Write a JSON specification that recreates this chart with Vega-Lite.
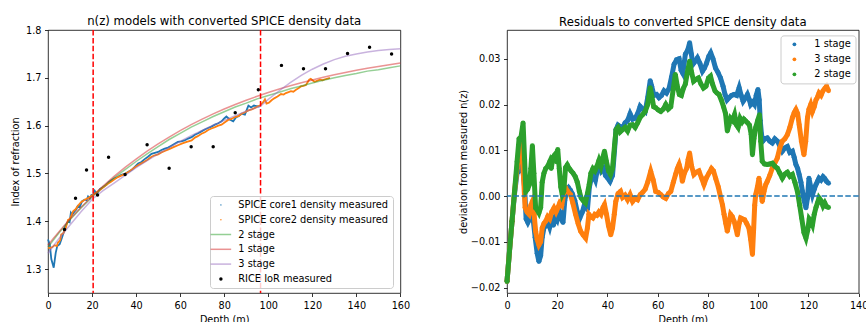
{
  "$schema": "https://vega.github.io/schema/vega-lite/v6.json",
  "padding": {"left": 10, "top": 15, "right": 0, "bottom": 0},
  "background": "white",
  "config": {
    "font": "DejaVu Sans",
    "view": {"stroke": "black", "strokeWidth": 0.8},
    "axis": {"domain": false, "grid": false, "tickColor": "black", "tickSize": 3.5, "tickWidth": 0.8, "labelFont": "DejaVu Sans", "labelFontSize": 9.7, "labelColor": "black", "labelPadding": 3.5, "titleFont": "DejaVu Sans", "titleFontSize": 9.7, "titleFontWeight": "normal", "titleColor": "black", "titlePadding": 5, "labelFlush": false, "labelOverlap": false},
    "title": {"font": "DejaVu Sans", "fontSize": 11.7, "fontWeight": "normal", "color": "black", "offset": -2.7, "anchor": "middle"},
    "legend": {"labelFont": "DejaVu Sans", "labelFontSize": 9.8, "labelColor": "black", "fillColor": "rgba(255,255,255,0.8)", "strokeColor": "#cccccc", "cornerRadius": 3, "padding": 5}
  },
  "resolve": {"scale": {"color": "independent"}, "legend": {"color": "independent"}},
  "spacing": 46,
  "datasets": {
    "meas": [
      {"z":0,"n":1.362,"s":"SPICE core1 density measured"},{"z":0.8,"n":1.352,"s":"SPICE core1 density measured"},{"z":1.5,"n":1.321,"s":"SPICE core1 density measured"},{"z":2.6,"n":1.303,"s":"SPICE core1 density measured"},{"z":3.5,"n":1.334,"s":"SPICE core1 density measured"},{"z":4.2,"n":1.348,"s":"SPICE core1 density measured"},{"z":5.3,"n":1.352,"s":"SPICE core1 density measured"},{"z":6.3,"n":1.365,"s":"SPICE core1 density measured"},{"z":7,"n":1.375,"s":"SPICE core1 density measured"},{"z":7.9,"n":1.39,"s":"SPICE core1 density measured"},{"z":8.5,"n":1.395,"s":"SPICE core1 density measured"},{"z":9.1,"n":1.4,"s":"SPICE core1 density measured"},{"z":9.8,"n":1.398,"s":"SPICE core1 density measured"},{"z":10.4,"n":1.418,"s":"SPICE core1 density measured"},{"z":11,"n":1.414,"s":"SPICE core1 density measured"},{"z":12,"n":1.42,"s":"SPICE core1 density measured"},{"z":12.9,"n":1.425,"s":"SPICE core1 density measured"},{"z":13.5,"n":1.432,"s":"SPICE core1 density measured"},{"z":14.4,"n":1.43,"s":"SPICE core1 density measured"},{"z":15.5,"n":1.442,"s":"SPICE core1 density measured"},{"z":16.7,"n":1.445,"s":"SPICE core1 density measured"},{"z":17.5,"n":1.444,"s":"SPICE core1 density measured"},{"z":18.2,"n":1.452,"s":"SPICE core1 density measured"},{"z":19,"n":1.448,"s":"SPICE core1 density measured"},{"z":19.7,"n":1.455,"s":"SPICE core1 density measured"},{"z":20.5,"n":1.456,"s":"SPICE core1 density measured"},{"z":21.2,"n":1.464,"s":"SPICE core1 density measured"},{"z":22,"n":1.458,"s":"SPICE core1 density measured"},{"z":22.7,"n":1.461,"s":"SPICE core1 density measured"},{"z":23.5,"n":1.467,"s":"SPICE core1 density measured"},{"z":24.2,"n":1.469,"s":"SPICE core1 density measured"},{"z":25.3,"n":1.472,"s":"SPICE core1 density measured"},{"z":26.5,"n":1.476,"s":"SPICE core1 density measured"},{"z":27.6,"n":1.482,"s":"SPICE core1 density measured"},{"z":28.8,"n":1.486,"s":"SPICE core1 density measured"},{"z":30.3,"n":1.49,"s":"SPICE core1 density measured"},{"z":31.8,"n":1.493,"s":"SPICE core1 density measured"},{"z":33.3,"n":1.497,"s":"SPICE core1 density measured"},{"z":34.8,"n":1.499,"s":"SPICE core1 density measured"},{"z":36.3,"n":1.503,"s":"SPICE core1 density measured"},{"z":37.9,"n":1.507,"s":"SPICE core1 density measured"},{"z":39.4,"n":1.514,"s":"SPICE core1 density measured"},{"z":40.9,"n":1.521,"s":"SPICE core1 density measured"},{"z":42.4,"n":1.524,"s":"SPICE core1 density measured"},{"z":43.9,"n":1.53,"s":"SPICE core1 density measured"},{"z":45.4,"n":1.535,"s":"SPICE core1 density measured"},{"z":47,"n":1.541,"s":"SPICE core1 density measured"},{"z":48.5,"n":1.543,"s":"SPICE core1 density measured"},{"z":50,"n":1.545,"s":"SPICE core1 density measured"},{"z":51.5,"n":1.549,"s":"SPICE core1 density measured"},{"z":53,"n":1.552,"s":"SPICE core1 density measured"},{"z":54.5,"n":1.554,"s":"SPICE core1 density measured"},{"z":56,"n":1.558,"s":"SPICE core1 density measured"},{"z":57.5,"n":1.562,"s":"SPICE core1 density measured"},{"z":59,"n":1.566,"s":"SPICE core1 density measured"},{"z":60.5,"n":1.567,"s":"SPICE core1 density measured"},{"z":62,"n":1.569,"s":"SPICE core1 density measured"},{"z":63.6,"n":1.573,"s":"SPICE core1 density measured"},{"z":65.2,"n":1.576,"s":"SPICE core1 density measured"},{"z":66.7,"n":1.581,"s":"SPICE core1 density measured"},{"z":68.2,"n":1.584,"s":"SPICE core1 density measured"},{"z":69.7,"n":1.588,"s":"SPICE core1 density measured"},{"z":71.2,"n":1.592,"s":"SPICE core1 density measured"},{"z":72.7,"n":1.595,"s":"SPICE core1 density measured"},{"z":74.2,"n":1.598,"s":"SPICE core1 density measured"},{"z":75.8,"n":1.602,"s":"SPICE core1 density measured"},{"z":77.3,"n":1.605,"s":"SPICE core1 density measured"},{"z":78.8,"n":1.609,"s":"SPICE core1 density measured"},{"z":80,"n":1.615,"s":"SPICE core1 density measured"},{"z":81,"n":1.619,"s":"SPICE core1 density measured"},{"z":82.5,"n":1.613,"s":"SPICE core1 density measured"},{"z":84.1,"n":1.609,"s":"SPICE core1 density measured"},{"z":85.5,"n":1.618,"s":"SPICE core1 density measured"},{"z":86.7,"n":1.62,"s":"SPICE core1 density measured"},{"z":87.9,"n":1.625,"s":"SPICE core1 density measured"},{"z":89.4,"n":1.623,"s":"SPICE core1 density measured"},{"z":90.5,"n":1.636,"s":"SPICE core1 density measured"},{"z":91,"n":1.642,"s":"SPICE core1 density measured"},{"z":92.2,"n":1.638,"s":"SPICE core1 density measured"},{"z":93.5,"n":1.642,"s":"SPICE core1 density measured"},{"z":94.7,"n":1.641,"s":"SPICE core1 density measured"},{"z":96,"n":1.64,"s":"SPICE core1 density measured"},
      {"z":0,"n":1.345,"s":"SPICE core2 density measured"},{"z":1,"n":1.344,"s":"SPICE core2 density measured"},{"z":2,"n":1.346,"s":"SPICE core2 density measured"},{"z":3,"n":1.35,"s":"SPICE core2 density measured"},{"z":4,"n":1.348,"s":"SPICE core2 density measured"},{"z":4.5,"n":1.355,"s":"SPICE core2 density measured"},{"z":5.5,"n":1.36,"s":"SPICE core2 density measured"},{"z":6,"n":1.372,"s":"SPICE core2 density measured"},{"z":7,"n":1.375,"s":"SPICE core2 density measured"},{"z":8,"n":1.385,"s":"SPICE core2 density measured"},{"z":9.1,"n":1.403,"s":"SPICE core2 density measured"},{"z":10,"n":1.405,"s":"SPICE core2 density measured"},{"z":11.4,"n":1.421,"s":"SPICE core2 density measured"},{"z":12.5,"n":1.425,"s":"SPICE core2 density measured"},{"z":13.5,"n":1.432,"s":"SPICE core2 density measured"},{"z":15,"n":1.44,"s":"SPICE core2 density measured"},{"z":16.7,"n":1.445,"s":"SPICE core2 density measured"},{"z":18,"n":1.448,"s":"SPICE core2 density measured"},{"z":19.7,"n":1.453,"s":"SPICE core2 density measured"},{"z":21,"n":1.457,"s":"SPICE core2 density measured"},{"z":22.7,"n":1.462,"s":"SPICE core2 density measured"},{"z":24,"n":1.467,"s":"SPICE core2 density measured"},{"z":25.7,"n":1.473,"s":"SPICE core2 density measured"},{"z":27,"n":1.478,"s":"SPICE core2 density measured"},{"z":28.8,"n":1.483,"s":"SPICE core2 density measured"},{"z":30.5,"n":1.489,"s":"SPICE core2 density measured"},{"z":32,"n":1.493,"s":"SPICE core2 density measured"},{"z":33.5,"n":1.496,"s":"SPICE core2 density measured"},{"z":34.8,"n":1.499,"s":"SPICE core2 density measured"},{"z":36.5,"n":1.503,"s":"SPICE core2 density measured"},{"z":38,"n":1.508,"s":"SPICE core2 density measured"},{"z":39.5,"n":1.513,"s":"SPICE core2 density measured"},{"z":40.9,"n":1.517,"s":"SPICE core2 density measured"},{"z":42,"n":1.52,"s":"SPICE core2 density measured"},{"z":43.5,"n":1.524,"s":"SPICE core2 density measured"},{"z":45,"n":1.528,"s":"SPICE core2 density measured"},{"z":47,"n":1.535,"s":"SPICE core2 density measured"},{"z":48.5,"n":1.538,"s":"SPICE core2 density measured"},{"z":50,"n":1.54,"s":"SPICE core2 density measured"},{"z":51.5,"n":1.544,"s":"SPICE core2 density measured"},{"z":53,"n":1.547,"s":"SPICE core2 density measured"},{"z":55,"n":1.551,"s":"SPICE core2 density measured"},{"z":57,"n":1.555,"s":"SPICE core2 density measured"},{"z":59,"n":1.559,"s":"SPICE core2 density measured"},{"z":61,"n":1.563,"s":"SPICE core2 density measured"},{"z":63,"n":1.566,"s":"SPICE core2 density measured"},{"z":65.2,"n":1.569,"s":"SPICE core2 density measured"},{"z":66.7,"n":1.575,"s":"SPICE core2 density measured"},{"z":68,"n":1.578,"s":"SPICE core2 density measured"},{"z":69.7,"n":1.583,"s":"SPICE core2 density measured"},{"z":71.2,"n":1.586,"s":"SPICE core2 density measured"},{"z":72.7,"n":1.591,"s":"SPICE core2 density measured"},{"z":74.2,"n":1.594,"s":"SPICE core2 density measured"},{"z":75.8,"n":1.597,"s":"SPICE core2 density measured"},{"z":77.3,"n":1.6,"s":"SPICE core2 density measured"},{"z":78.8,"n":1.602,"s":"SPICE core2 density measured"},{"z":80.3,"n":1.607,"s":"SPICE core2 density measured"},{"z":81.8,"n":1.612,"s":"SPICE core2 density measured"},{"z":83.3,"n":1.614,"s":"SPICE core2 density measured"},{"z":84.9,"n":1.618,"s":"SPICE core2 density measured"},{"z":86.4,"n":1.62,"s":"SPICE core2 density measured"},{"z":87.9,"n":1.625,"s":"SPICE core2 density measured"},{"z":89.4,"n":1.628,"s":"SPICE core2 density measured"},{"z":91,"n":1.632,"s":"SPICE core2 density measured"},{"z":92.5,"n":1.634,"s":"SPICE core2 density measured"},{"z":94,"n":1.637,"s":"SPICE core2 density measured"},{"z":95.1,"n":1.64,"s":"SPICE core2 density measured"},{"z":96.2,"n":1.642,"s":"SPICE core2 density measured"},{"z":97.7,"n":1.649,"s":"SPICE core2 density measured"},{"z":98.5,"n":1.655,"s":"SPICE core2 density measured"},{"z":99.2,"n":1.646,"s":"SPICE core2 density measured"},{"z":100.3,"n":1.648,"s":"SPICE core2 density measured"},{"z":101.5,"n":1.653,"s":"SPICE core2 density measured"},{"z":102.7,"n":1.657,"s":"SPICE core2 density measured"},{"z":104.2,"n":1.661,"s":"SPICE core2 density measured"},{"z":105.8,"n":1.666,"s":"SPICE core2 density measured"},{"z":107,"n":1.665,"s":"SPICE core2 density measured"},{"z":108,"n":1.668,"s":"SPICE core2 density measured"},{"z":109.2,"n":1.67,"s":"SPICE core2 density measured"},{"z":110.3,"n":1.672,"s":"SPICE core2 density measured"},{"z":111.4,"n":1.671,"s":"SPICE core2 density measured"},{"z":112.6,"n":1.675,"s":"SPICE core2 density measured"},{"z":113.7,"n":1.678,"s":"SPICE core2 density measured"},{"z":114.8,"n":1.682,"s":"SPICE core2 density measured"},{"z":116,"n":1.683,"s":"SPICE core2 density measured"},{"z":117.1,"n":1.685,"s":"SPICE core2 density measured"},{"z":118.6,"n":1.696,"s":"SPICE core2 density measured"},{"z":119.3,"n":1.698,"s":"SPICE core2 density measured"},{"z":120.1,"n":1.695,"s":"SPICE core2 density measured"},{"z":121,"n":1.692,"s":"SPICE core2 density measured"},{"z":121.8,"n":1.693,"s":"SPICE core2 density measured"},{"z":123.5,"n":1.696,"s":"SPICE core2 density measured"},{"z":124.6,"n":1.695,"s":"SPICE core2 density measured"},{"z":125.8,"n":1.697,"s":"SPICE core2 density measured"},{"z":127.3,"n":1.699,"s":"SPICE core2 density measured"},{"z":128,"n":1.7,"s":"SPICE core2 density measured"}
    ],
    "model": [
      {"z":0,"n":1.346,"s":"2 stage"},{"z":5,"n":1.376,"s":"2 stage"},{"z":10,"n":1.403,"s":"2 stage"},{"z":15,"n":1.428,"s":"2 stage"},{"z":20.5,"n":1.453,"s":"2 stage"},{"z":25,"n":1.472,"s":"2 stage"},{"z":30,"n":1.491,"s":"2 stage"},{"z":35,"n":1.508,"s":"2 stage"},{"z":40,"n":1.525,"s":"2 stage"},{"z":45,"n":1.541,"s":"2 stage"},{"z":50,"n":1.556,"s":"2 stage"},{"z":55,"n":1.571,"s":"2 stage"},{"z":60,"n":1.584,"s":"2 stage"},{"z":65,"n":1.597,"s":"2 stage"},{"z":70,"n":1.608,"s":"2 stage"},{"z":75,"n":1.619,"s":"2 stage"},{"z":80,"n":1.629,"s":"2 stage"},{"z":85,"n":1.639,"s":"2 stage"},{"z":90,"n":1.647,"s":"2 stage"},{"z":95,"n":1.656,"s":"2 stage"},{"z":100,"n":1.663,"s":"2 stage"},{"z":105,"n":1.67,"s":"2 stage"},{"z":110,"n":1.677,"s":"2 stage"},{"z":115,"n":1.683,"s":"2 stage"},{"z":120,"n":1.689,"s":"2 stage"},{"z":125,"n":1.695,"s":"2 stage"},{"z":130,"n":1.7,"s":"2 stage"},{"z":135,"n":1.705,"s":"2 stage"},{"z":140,"n":1.709,"s":"2 stage"},{"z":145,"n":1.714,"s":"2 stage"},{"z":150,"n":1.717,"s":"2 stage"},{"z":155,"n":1.721,"s":"2 stage"},{"z":160,"n":1.725,"s":"2 stage"},
      {"z":0,"n":1.35,"s":"1 stage"},{"z":2.5,"n":1.3643,"s":"1 stage"},{"z":5,"n":1.3782,"s":"1 stage"},{"z":7.5,"n":1.3916,"s":"1 stage"},{"z":10,"n":1.4046,"s":"1 stage"},{"z":15,"n":1.4292,"s":"1 stage"},{"z":20,"n":1.4522,"s":"1 stage"},{"z":25,"n":1.4737,"s":"1 stage"},{"z":30,"n":1.4938,"s":"1 stage"},{"z":35,"n":1.5126,"s":"1 stage"},{"z":40,"n":1.5301,"s":"1 stage"},{"z":45,"n":1.5465,"s":"1 stage"},{"z":50,"n":1.5618,"s":"1 stage"},{"z":55,"n":1.5761,"s":"1 stage"},{"z":60,"n":1.5895,"s":"1 stage"},{"z":65,"n":1.602,"s":"1 stage"},{"z":70,"n":1.6137,"s":"1 stage"},{"z":75,"n":1.6246,"s":"1 stage"},{"z":80,"n":1.6348,"s":"1 stage"},{"z":85,"n":1.6443,"s":"1 stage"},{"z":90,"n":1.6532,"s":"1 stage"},{"z":95,"n":1.6615,"s":"1 stage"},{"z":100,"n":1.6693,"s":"1 stage"},{"z":105,"n":1.6765,"s":"1 stage"},{"z":110,"n":1.6833,"s":"1 stage"},{"z":115,"n":1.6897,"s":"1 stage"},{"z":120,"n":1.6956,"s":"1 stage"},{"z":125,"n":1.7011,"s":"1 stage"},{"z":130,"n":1.7063,"s":"1 stage"},{"z":135,"n":1.7112,"s":"1 stage"},{"z":140,"n":1.7157,"s":"1 stage"},{"z":145,"n":1.7199,"s":"1 stage"},{"z":150,"n":1.7238,"s":"1 stage"},{"z":155,"n":1.7275,"s":"1 stage"},{"z":160,"n":1.7309,"s":"1 stage"},
      {"z":0,"n":1.333,"s":"3 stage"},{"z":5,"n":1.364,"s":"3 stage"},{"z":10,"n":1.392,"s":"3 stage"},{"z":15,"n":1.42,"s":"3 stage"},{"z":20.5,"n":1.448,"s":"3 stage"},{"z":25,"n":1.464,"s":"3 stage"},{"z":30,"n":1.48,"s":"3 stage"},{"z":35,"n":1.496,"s":"3 stage"},{"z":40,"n":1.512,"s":"3 stage"},{"z":45,"n":1.527,"s":"3 stage"},{"z":50,"n":1.541,"s":"3 stage"},{"z":55,"n":1.554,"s":"3 stage"},{"z":60,"n":1.567,"s":"3 stage"},{"z":65,"n":1.579,"s":"3 stage"},{"z":70,"n":1.59,"s":"3 stage"},{"z":75,"n":1.601,"s":"3 stage"},{"z":80,"n":1.611,"s":"3 stage"},{"z":85,"n":1.621,"s":"3 stage"},{"z":90,"n":1.63,"s":"3 stage"},{"z":96.5,"n":1.641,"s":"3 stage"},{"z":100,"n":1.655,"s":"3 stage"},{"z":105,"n":1.673,"s":"3 stage"},{"z":110,"n":1.69,"s":"3 stage"},{"z":115,"n":1.705,"s":"3 stage"},{"z":120,"n":1.718,"s":"3 stage"},{"z":125,"n":1.729,"s":"3 stage"},{"z":130,"n":1.738,"s":"3 stage"},{"z":135,"n":1.745,"s":"3 stage"},{"z":140,"n":1.75,"s":"3 stage"},{"z":145,"n":1.754,"s":"3 stage"},{"z":150,"n":1.757,"s":"3 stage"},{"z":155,"n":1.759,"s":"3 stage"},{"z":160,"n":1.761,"s":"3 stage"}
    ],
    "rice": [
      {"z":7.5,"n":1.383,"s":"RICE IoR measured"},{"z":12.5,"n":1.448,"s":"RICE IoR measured"},{"z":17.5,"n":1.507,"s":"RICE IoR measured"},{"z":22.5,"n":1.455,"s":"RICE IoR measured"},{"z":27.5,"n":1.534,"s":"RICE IoR measured"},{"z":35,"n":1.498,"s":"RICE IoR measured"},{"z":45,"n":1.56,"s":"RICE IoR measured"},{"z":55,"n":1.511,"s":"RICE IoR measured"},{"z":65,"n":1.556,"s":"RICE IoR measured"},{"z":75,"n":1.556,"s":"RICE IoR measured"},{"z":85,"n":1.627,"s":"RICE IoR measured"},{"z":95.5,"n":1.675,"s":"RICE IoR measured"},{"z":106,"n":1.726,"s":"RICE IoR measured"},{"z":116,"n":1.719,"s":"RICE IoR measured"},{"z":126,"n":1.719,"s":"RICE IoR measured"},{"z":136,"n":1.751,"s":"RICE IoR measured"},{"z":146,"n":1.764,"s":"RICE IoR measured"},{"z":156,"n":1.75,"s":"RICE IoR measured"}
    ],
    "vlines": [{"z":20.5},{"z":96.5}],
    "zero": [{"r":0}],
    "resid": [
      {"z":0,"r":-0.0187,"s":"1 stage"},{"z":1,"r":-0.012,"s":"1 stage"},{"z":2,"r":-0.0055,"s":"1 stage"},{"z":3,"r":0.0005,"s":"1 stage"},{"z":4,"r":0.005,"s":"1 stage"},{"z":4.8,"r":0.0075,"s":"1 stage"},{"z":5.5,"r":0.006,"s":"1 stage"},{"z":6.2,"r":0.0065,"s":"1 stage"},{"z":7,"r":0.002,"s":"1 stage"},{"z":7.6,"r":-0.005,"s":"1 stage"},{"z":8.3,"r":-0.0058,"s":"1 stage"},{"z":9,"r":-0.005,"s":"1 stage"},{"z":9.7,"r":-0.0035,"s":"1 stage"},{"z":10.4,"r":-0.005,"s":"1 stage"},{"z":11.2,"r":-0.009,"s":"1 stage"},{"z":12,"r":-0.0125,"s":"1 stage"},{"z":12.7,"r":-0.0143,"s":"1 stage"},{"z":13.4,"r":-0.013,"s":"1 stage"},{"z":14,"r":-0.009,"s":"1 stage"},{"z":14.7,"r":-0.007,"s":"1 stage"},{"z":15.4,"r":-0.0065,"s":"1 stage"},{"z":16.2,"r":-0.0055,"s":"1 stage"},{"z":17,"r":-0.0068,"s":"1 stage"},{"z":17.8,"r":-0.005,"s":"1 stage"},{"z":18.5,"r":-0.0064,"s":"1 stage"},{"z":19.3,"r":-0.0045,"s":"1 stage"},{"z":20,"r":-0.0052,"s":"1 stage"},{"z":20.8,"r":-0.0035,"s":"1 stage"},{"z":21.5,"r":-0.0048,"s":"1 stage"},{"z":22.3,"r":-0.0058,"s":"1 stage"},{"z":23,"r":-0.001,"s":"1 stage"},{"z":23.7,"r":0.0012,"s":"1 stage"},{"z":24.5,"r":0.0018,"s":"1 stage"},{"z":25.3,"r":0.0012,"s":"1 stage"},{"z":26,"r":0.0005,"s":"1 stage"},{"z":27,"r":-0.001,"s":"1 stage"},{"z":28,"r":-0.0035,"s":"1 stage"},{"z":29,"r":-0.0048,"s":"1 stage"},{"z":30,"r":-0.0035,"s":"1 stage"},{"z":31,"r":-0.0015,"s":"1 stage"},{"z":32,"r":-0.003,"s":"1 stage"},{"z":32.8,"r":0.002,"s":"1 stage"},{"z":33.6,"r":0.004,"s":"1 stage"},{"z":34.4,"r":0.0045,"s":"1 stage"},{"z":35.2,"r":0.0035,"s":"1 stage"},{"z":36,"r":0.0058,"s":"1 stage"},{"z":36.8,"r":0.0075,"s":"1 stage"},{"z":37.6,"r":0.0055,"s":"1 stage"},{"z":38.4,"r":0.006,"s":"1 stage"},{"z":39.2,"r":0.0045,"s":"1 stage"},{"z":40,"r":0.004,"s":"1 stage"},{"z":41,"r":0.0032,"s":"1 stage"},{"z":42,"r":0.0045,"s":"1 stage"},{"z":42.8,"r":0.01,"s":"1 stage"},{"z":43.4,"r":0.0145,"s":"1 stage"},{"z":44.2,"r":0.0155,"s":"1 stage"},{"z":45,"r":0.0152,"s":"1 stage"},{"z":46,"r":0.0148,"s":"1 stage"},{"z":47,"r":0.016,"s":"1 stage"},{"z":48,"r":0.0165,"s":"1 stage"},{"z":49,"r":0.018,"s":"1 stage"},{"z":50,"r":0.0168,"s":"1 stage"},{"z":51,"r":0.017,"s":"1 stage"},{"z":52,"r":0.018,"s":"1 stage"},{"z":53,"r":0.0196,"s":"1 stage"},{"z":54,"r":0.019,"s":"1 stage"},{"z":55,"r":0.0185,"s":"1 stage"},{"z":56,"r":0.0215,"s":"1 stage"},{"z":57,"r":0.0252,"s":"1 stage"},{"z":57.6,"r":0.024,"s":"1 stage"},{"z":58.5,"r":0.022,"s":"1 stage"},{"z":59.5,"r":0.0222,"s":"1 stage"},{"z":60.5,"r":0.0215,"s":"1 stage"},{"z":61.5,"r":0.022,"s":"1 stage"},{"z":62.5,"r":0.023,"s":"1 stage"},{"z":63.5,"r":0.0225,"s":"1 stage"},{"z":64.5,"r":0.0235,"s":"1 stage"},{"z":65.5,"r":0.026,"s":"1 stage"},{"z":66.5,"r":0.0288,"s":"1 stage"},{"z":67.5,"r":0.0298,"s":"1 stage"},{"z":68.5,"r":0.03,"s":"1 stage"},{"z":69.3,"r":0.0275,"s":"1 stage"},{"z":70,"r":0.0268,"s":"1 stage"},{"z":71,"r":0.031,"s":"1 stage"},{"z":72,"r":0.032,"s":"1 stage"},{"z":72.7,"r":0.0335,"s":"1 stage"},{"z":73.4,"r":0.031,"s":"1 stage"},{"z":74,"r":0.0288,"s":"1 stage"},{"z":75,"r":0.0295,"s":"1 stage"},{"z":75.8,"r":0.0302,"s":"1 stage"},{"z":76.8,"r":0.029,"s":"1 stage"},{"z":77.8,"r":0.0273,"s":"1 stage"},{"z":78.6,"r":0.028,"s":"1 stage"},{"z":79.4,"r":0.029,"s":"1 stage"},{"z":80.3,"r":0.0305,"s":"1 stage"},{"z":81.1,"r":0.0313,"s":"1 stage"},{"z":82,"r":0.03,"s":"1 stage"},{"z":83,"r":0.028,"s":"1 stage"},{"z":84,"r":0.027,"s":"1 stage"},{"z":85,"r":0.0258,"s":"1 stage"},{"z":86,"r":0.024,"s":"1 stage"},{"z":86.8,"r":0.0222,"s":"1 stage"},{"z":87.6,"r":0.021,"s":"1 stage"},{"z":88.4,"r":0.0215,"s":"1 stage"},{"z":89.4,"r":0.022,"s":"1 stage"},{"z":90.4,"r":0.0222,"s":"1 stage"},{"z":91.4,"r":0.022,"s":"1 stage"},{"z":92.4,"r":0.0237,"s":"1 stage"},{"z":93.2,"r":0.022,"s":"1 stage"},{"z":94,"r":0.0207,"s":"1 stage"},{"z":95,"r":0.0215,"s":"1 stage"},{"z":95.7,"r":0.0222,"s":"1 stage"},{"z":96.5,"r":0.021,"s":"1 stage"},{"z":97,"r":0.02,"s":"1 stage"},{"z":97.8,"r":0.0205,"s":"1 stage"},{"z":98.5,"r":0.02,"s":"1 stage"},{"z":99.2,"r":0.022,"s":"1 stage"},{"z":99.9,"r":0.0233,"s":"1 stage"},{"z":100.4,"r":0.021,"s":"1 stage"},{"z":100.8,"r":0.0165,"s":"1 stage"},{"z":101.3,"r":0.0135,"s":"1 stage"},{"z":101.8,"r":0.012,"s":"1 stage"},{"z":102.6,"r":0.0125,"s":"1 stage"},{"z":103.6,"r":0.0127,"s":"1 stage"},{"z":104.6,"r":0.012,"s":"1 stage"},{"z":105.6,"r":0.0116,"s":"1 stage"},{"z":106.6,"r":0.0125,"s":"1 stage"},{"z":107.6,"r":0.012,"s":"1 stage"},{"z":108.6,"r":0.011,"s":"1 stage"},{"z":109.6,"r":0.0098,"s":"1 stage"},{"z":110.6,"r":0.0105,"s":"1 stage"},{"z":111.6,"r":0.0108,"s":"1 stage"},{"z":112.6,"r":0.0095,"s":"1 stage"},{"z":113.6,"r":0.0098,"s":"1 stage"},{"z":114.3,"r":0.0085,"s":"1 stage"},{"z":115,"r":0.0069,"s":"1 stage"},{"z":115.7,"r":0.006,"s":"1 stage"},{"z":116.3,"r":0.0047,"s":"1 stage"},{"z":117,"r":0.003,"s":"1 stage"},{"z":117.6,"r":0.001,"s":"1 stage"},{"z":118.3,"r":-0.001,"s":"1 stage"},{"z":119,"r":-0.0026,"s":"1 stage"},{"z":119.6,"r":-0.0005,"s":"1 stage"},{"z":120.2,"r":0.0039,"s":"1 stage"},{"z":120.9,"r":0.002,"s":"1 stage"},{"z":121.6,"r":0.0003,"s":"1 stage"},{"z":122.3,"r":0.0015,"s":"1 stage"},{"z":123,"r":0.0025,"s":"1 stage"},{"z":123.6,"r":0.0032,"s":"1 stage"},{"z":124.2,"r":0.0039,"s":"1 stage"},{"z":125,"r":0.0035,"s":"1 stage"},{"z":125.8,"r":0.0042,"s":"1 stage"},{"z":126.5,"r":0.0038,"s":"1 stage"},{"z":127.2,"r":0.0032,"s":"1 stage"},{"z":128,"r":0.0028,"s":"1 stage"},
      {"z":0,"r":-0.0187,"s":"3 stage"},{"z":1,"r":-0.012,"s":"3 stage"},{"z":2,"r":-0.0055,"s":"3 stage"},{"z":3,"r":0.001,"s":"3 stage"},{"z":4,"r":0.006,"s":"3 stage"},{"z":4.8,"r":0.0095,"s":"3 stage"},{"z":5.4,"r":0.012,"s":"3 stage"},{"z":6,"r":0.009,"s":"3 stage"},{"z":6.6,"r":0.004,"s":"3 stage"},{"z":7.2,"r":-0.0025,"s":"3 stage"},{"z":8,"r":-0.0035,"s":"3 stage"},{"z":8.8,"r":-0.004,"s":"3 stage"},{"z":9.5,"r":-0.002,"s":"3 stage"},{"z":10.1,"r":-0.0012,"s":"3 stage"},{"z":10.8,"r":-0.004,"s":"3 stage"},{"z":11.4,"r":-0.0077,"s":"3 stage"},{"z":12,"r":-0.0095,"s":"3 stage"},{"z":12.7,"r":-0.0107,"s":"3 stage"},{"z":13.4,"r":-0.01,"s":"3 stage"},{"z":14,"r":-0.007,"s":"3 stage"},{"z":14.7,"r":-0.006,"s":"3 stage"},{"z":15.4,"r":-0.0055,"s":"3 stage"},{"z":16.2,"r":-0.0045,"s":"3 stage"},{"z":17,"r":-0.005,"s":"3 stage"},{"z":17.8,"r":-0.0035,"s":"3 stage"},{"z":18.7,"r":-0.0026,"s":"3 stage"},{"z":19.5,"r":-0.0035,"s":"3 stage"},{"z":20.3,"r":-0.0025,"s":"3 stage"},{"z":21,"r":-0.0015,"s":"3 stage"},{"z":21.8,"r":-0.002,"s":"3 stage"},{"z":22.6,"r":0.0005,"s":"3 stage"},{"z":23.4,"r":0.0017,"s":"3 stage"},{"z":24.2,"r":0.001,"s":"3 stage"},{"z":25.3,"r":0.0003,"s":"3 stage"},{"z":26.2,"r":-0.0015,"s":"3 stage"},{"z":27.3,"r":-0.004,"s":"3 stage"},{"z":28.3,"r":-0.006,"s":"3 stage"},{"z":29.3,"r":-0.0077,"s":"3 stage"},{"z":30.3,"r":-0.0085,"s":"3 stage"},{"z":31.3,"r":-0.0092,"s":"3 stage"},{"z":32,"r":-0.007,"s":"3 stage"},{"z":32.6,"r":-0.004,"s":"3 stage"},{"z":33.4,"r":-0.0045,"s":"3 stage"},{"z":34.2,"r":-0.0048,"s":"3 stage"},{"z":35,"r":-0.004,"s":"3 stage"},{"z":35.8,"r":-0.0042,"s":"3 stage"},{"z":36.6,"r":-0.0035,"s":"3 stage"},{"z":37.4,"r":-0.004,"s":"3 stage"},{"z":38.2,"r":-0.0025,"s":"3 stage"},{"z":38.8,"r":-0.0019,"s":"3 stage"},{"z":39.6,"r":-0.004,"s":"3 stage"},{"z":40.4,"r":-0.0065,"s":"3 stage"},{"z":41.3,"r":-0.0085,"s":"3 stage"},{"z":42,"r":-0.007,"s":"3 stage"},{"z":42.7,"r":-0.004,"s":"3 stage"},{"z":43.3,"r":-0.0012,"s":"3 stage"},{"z":44.2,"r":0.0005,"s":"3 stage"},{"z":45.2,"r":0.001,"s":"3 stage"},{"z":46,"r":-0.0003,"s":"3 stage"},{"z":47,"r":0.0002,"s":"3 stage"},{"z":48,"r":-0.0008,"s":"3 stage"},{"z":49,"r":0.0003,"s":"3 stage"},{"z":50,"r":-0.0012,"s":"3 stage"},{"z":51,"r":-0.0005,"s":"3 stage"},{"z":52,"r":-0.0008,"s":"3 stage"},{"z":53,"r":0.0003,"s":"3 stage"},{"z":54,"r":0.0008,"s":"3 stage"},{"z":55,"r":0.0015,"s":"3 stage"},{"z":56,"r":0.003,"s":"3 stage"},{"z":57.2,"r":0.0054,"s":"3 stage"},{"z":58.2,"r":0.0035,"s":"3 stage"},{"z":59.2,"r":0.001,"s":"3 stage"},{"z":60.2,"r":0.0008,"s":"3 stage"},{"z":61.2,"r":0.0003,"s":"3 stage"},{"z":62.2,"r":-0.0002,"s":"3 stage"},{"z":63.2,"r":-0.0005,"s":"3 stage"},{"z":64.2,"r":0.0005,"s":"3 stage"},{"z":65.2,"r":0.001,"s":"3 stage"},{"z":66.2,"r":0.003,"s":"3 stage"},{"z":67.1,"r":0.0047,"s":"3 stage"},{"z":67.8,"r":0.006,"s":"3 stage"},{"z":68.5,"r":0.0069,"s":"3 stage"},{"z":69.2,"r":0.0055,"s":"3 stage"},{"z":69.8,"r":0.0032,"s":"3 stage"},{"z":70.6,"r":0.005,"s":"3 stage"},{"z":71.5,"r":0.006,"s":"3 stage"},{"z":72.1,"r":0.008,"s":"3 stage"},{"z":72.7,"r":0.0094,"s":"3 stage"},{"z":73.5,"r":0.0065,"s":"3 stage"},{"z":74.4,"r":0.0047,"s":"3 stage"},{"z":75.3,"r":0.0052,"s":"3 stage"},{"z":76.4,"r":0.0055,"s":"3 stage"},{"z":77.4,"r":0.004,"s":"3 stage"},{"z":78.4,"r":0.0025,"s":"3 stage"},{"z":79.4,"r":0.004,"s":"3 stage"},{"z":80.4,"r":0.005,"s":"3 stage"},{"z":81.4,"r":0.006,"s":"3 stage"},{"z":82.2,"r":0.0055,"s":"3 stage"},{"z":83.1,"r":0.0038,"s":"3 stage"},{"z":84.1,"r":0.002,"s":"3 stage"},{"z":85.1,"r":-0.0004,"s":"3 stage"},{"z":85.8,"r":-0.002,"s":"3 stage"},{"z":86.4,"r":-0.004,"s":"3 stage"},{"z":87.1,"r":-0.006,"s":"3 stage"},{"z":87.7,"r":-0.0077,"s":"3 stage"},{"z":88.3,"r":-0.006,"s":"3 stage"},{"z":89,"r":-0.004,"s":"3 stage"},{"z":89.7,"r":-0.0045,"s":"3 stage"},{"z":90.4,"r":-0.0055,"s":"3 stage"},{"z":91.1,"r":-0.007,"s":"3 stage"},{"z":91.7,"r":-0.0085,"s":"3 stage"},{"z":92.4,"r":-0.006,"s":"3 stage"},{"z":93,"r":-0.0048,"s":"3 stage"},{"z":93.8,"r":-0.005,"s":"3 stage"},{"z":94.6,"r":-0.0052,"s":"3 stage"},{"z":95.4,"r":-0.006,"s":"3 stage"},{"z":96.3,"r":-0.007,"s":"3 stage"},{"z":97,"r":-0.0095,"s":"3 stage"},{"z":97.7,"r":-0.0128,"s":"3 stage"},{"z":98.2,"r":-0.007,"s":"3 stage"},{"z":98.6,"r":-0.002,"s":"3 stage"},{"z":99,"r":0.0003,"s":"3 stage"},{"z":99.7,"r":0.002,"s":"3 stage"},{"z":100.3,"r":0.0039,"s":"3 stage"},{"z":101,"r":0.001,"s":"3 stage"},{"z":101.6,"r":-0.0012,"s":"3 stage"},{"z":102.3,"r":0.001,"s":"3 stage"},{"z":103,"r":0.0025,"s":"3 stage"},{"z":103.6,"r":0.0032,"s":"3 stage"},{"z":104.6,"r":0.0045,"s":"3 stage"},{"z":105.6,"r":0.0061,"s":"3 stage"},{"z":106.6,"r":0.0072,"s":"3 stage"},{"z":107.6,"r":0.0083,"s":"3 stage"},{"z":108.6,"r":0.0105,"s":"3 stage"},{"z":109.6,"r":0.012,"s":"3 stage"},{"z":110.6,"r":0.0125,"s":"3 stage"},{"z":111.6,"r":0.0134,"s":"3 stage"},{"z":112.6,"r":0.015,"s":"3 stage"},{"z":113.6,"r":0.0171,"s":"3 stage"},{"z":114.3,"r":0.0182,"s":"3 stage"},{"z":115,"r":0.0189,"s":"3 stage"},{"z":115.7,"r":0.018,"s":"3 stage"},{"z":116.3,"r":0.0156,"s":"3 stage"},{"z":117.2,"r":0.012,"s":"3 stage"},{"z":118.2,"r":0.009,"s":"3 stage"},{"z":118.9,"r":0.012,"s":"3 stage"},{"z":119.6,"r":0.0171,"s":"3 stage"},{"z":120.2,"r":0.019,"s":"3 stage"},{"z":120.9,"r":0.02,"s":"3 stage"},{"z":121.6,"r":0.0185,"s":"3 stage"},{"z":122.3,"r":0.0195,"s":"3 stage"},{"z":123,"r":0.021,"s":"3 stage"},{"z":123.5,"r":0.0215,"s":"3 stage"},{"z":124.2,"r":0.0225,"s":"3 stage"},{"z":125,"r":0.022,"s":"3 stage"},{"z":125.8,"r":0.023,"s":"3 stage"},{"z":126.5,"r":0.0235,"s":"3 stage"},{"z":127.2,"r":0.024,"s":"3 stage"},{"z":128,"r":0.023,"s":"3 stage"},
      {"z":0,"r":-0.0187,"s":"2 stage"},{"z":1,"r":-0.012,"s":"2 stage"},{"z":2,"r":-0.0055,"s":"2 stage"},{"z":3,"r":0.001,"s":"2 stage"},{"z":4,"r":0.0075,"s":"2 stage"},{"z":4.8,"r":0.0125,"s":"2 stage"},{"z":5.6,"r":0.013,"s":"2 stage"},{"z":6.4,"r":0.016,"s":"2 stage"},{"z":7,"r":0.008,"s":"2 stage"},{"z":7.5,"r":0.001,"s":"2 stage"},{"z":8.2,"r":0.0015,"s":"2 stage"},{"z":8.9,"r":0.0025,"s":"2 stage"},{"z":9.5,"r":0.006,"s":"2 stage"},{"z":10.1,"r":0.011,"s":"2 stage"},{"z":10.7,"r":0.005,"s":"2 stage"},{"z":11.4,"r":-0.0026,"s":"2 stage"},{"z":12,"r":-0.003,"s":"2 stage"},{"z":12.7,"r":-0.0037,"s":"2 stage"},{"z":13.4,"r":-0.0025,"s":"2 stage"},{"z":14,"r":0.003,"s":"2 stage"},{"z":14.7,"r":0.005,"s":"2 stage"},{"z":15.4,"r":0.006,"s":"2 stage"},{"z":16.2,"r":0.0065,"s":"2 stage"},{"z":17,"r":0.0075,"s":"2 stage"},{"z":17.6,"r":0.006,"s":"2 stage"},{"z":18.3,"r":0.0085,"s":"2 stage"},{"z":19,"r":0.009,"s":"2 stage"},{"z":19.6,"r":0.0075,"s":"2 stage"},{"z":20.2,"r":0.0102,"s":"2 stage"},{"z":20.8,"r":0.006,"s":"2 stage"},{"z":21.4,"r":0.002,"s":"2 stage"},{"z":22,"r":0.0003,"s":"2 stage"},{"z":22.6,"r":0.001,"s":"2 stage"},{"z":23.3,"r":0.0062,"s":"2 stage"},{"z":24,"r":0.0068,"s":"2 stage"},{"z":24.8,"r":0.006,"s":"2 stage"},{"z":25.5,"r":0.0055,"s":"2 stage"},{"z":26.3,"r":0.005,"s":"2 stage"},{"z":27.2,"r":0.0042,"s":"2 stage"},{"z":28,"r":0.003,"s":"2 stage"},{"z":28.8,"r":0.001,"s":"2 stage"},{"z":29.5,"r":-0.0004,"s":"2 stage"},{"z":30.3,"r":-0.001,"s":"2 stage"},{"z":31.2,"r":-0.0015,"s":"2 stage"},{"z":32,"r":0.0005,"s":"2 stage"},{"z":32.7,"r":0.0025,"s":"2 stage"},{"z":33.4,"r":0.005,"s":"2 stage"},{"z":34.2,"r":0.006,"s":"2 stage"},{"z":35,"r":0.0055,"s":"2 stage"},{"z":35.8,"r":0.0065,"s":"2 stage"},{"z":36.6,"r":0.0078,"s":"2 stage"},{"z":37.4,"r":0.0065,"s":"2 stage"},{"z":38.2,"r":0.0085,"s":"2 stage"},{"z":38.8,"r":0.0098,"s":"2 stage"},{"z":39.6,"r":0.0075,"s":"2 stage"},{"z":40.4,"r":0.0055,"s":"2 stage"},{"z":41.2,"r":0.0047,"s":"2 stage"},{"z":42,"r":0.006,"s":"2 stage"},{"z":42.8,"r":0.011,"s":"2 stage"},{"z":43.4,"r":0.0145,"s":"2 stage"},{"z":44.2,"r":0.015,"s":"2 stage"},{"z":45,"r":0.014,"s":"2 stage"},{"z":46,"r":0.0145,"s":"2 stage"},{"z":47,"r":0.015,"s":"2 stage"},{"z":48,"r":0.0142,"s":"2 stage"},{"z":49,"r":0.0155,"s":"2 stage"},{"z":50,"r":0.0156,"s":"2 stage"},{"z":51,"r":0.015,"s":"2 stage"},{"z":52,"r":0.016,"s":"2 stage"},{"z":53,"r":0.0172,"s":"2 stage"},{"z":54,"r":0.0178,"s":"2 stage"},{"z":55,"r":0.0185,"s":"2 stage"},{"z":56,"r":0.02,"s":"2 stage"},{"z":57,"r":0.0237,"s":"2 stage"},{"z":57.6,"r":0.022,"s":"2 stage"},{"z":58.4,"r":0.0195,"s":"2 stage"},{"z":59.2,"r":0.0193,"s":"2 stage"},{"z":60.2,"r":0.0188,"s":"2 stage"},{"z":61.2,"r":0.0185,"s":"2 stage"},{"z":62.2,"r":0.019,"s":"2 stage"},{"z":63.2,"r":0.02,"s":"2 stage"},{"z":64.2,"r":0.019,"s":"2 stage"},{"z":65.2,"r":0.0195,"s":"2 stage"},{"z":66.2,"r":0.0235,"s":"2 stage"},{"z":67,"r":0.0266,"s":"2 stage"},{"z":67.8,"r":0.024,"s":"2 stage"},{"z":68.6,"r":0.0222,"s":"2 stage"},{"z":69.4,"r":0.022,"s":"2 stage"},{"z":70.2,"r":0.0235,"s":"2 stage"},{"z":71,"r":0.0245,"s":"2 stage"},{"z":71.8,"r":0.027,"s":"2 stage"},{"z":72.7,"r":0.0295,"s":"2 stage"},{"z":73.5,"r":0.027,"s":"2 stage"},{"z":74.3,"r":0.0251,"s":"2 stage"},{"z":75.2,"r":0.0255,"s":"2 stage"},{"z":76.2,"r":0.0258,"s":"2 stage"},{"z":77.2,"r":0.0245,"s":"2 stage"},{"z":78.2,"r":0.0236,"s":"2 stage"},{"z":79.2,"r":0.024,"s":"2 stage"},{"z":80.2,"r":0.0258,"s":"2 stage"},{"z":81,"r":0.0262,"s":"2 stage"},{"z":81.8,"r":0.0245,"s":"2 stage"},{"z":82.8,"r":0.023,"s":"2 stage"},{"z":83.6,"r":0.0225,"s":"2 stage"},{"z":84.4,"r":0.0222,"s":"2 stage"},{"z":85.3,"r":0.021,"s":"2 stage"},{"z":86.2,"r":0.0195,"s":"2 stage"},{"z":87,"r":0.018,"s":"2 stage"},{"z":87.7,"r":0.0142,"s":"2 stage"},{"z":88.3,"r":0.0155,"s":"2 stage"},{"z":89,"r":0.017,"s":"2 stage"},{"z":89.8,"r":0.0165,"s":"2 stage"},{"z":90.6,"r":0.0178,"s":"2 stage"},{"z":91.4,"r":0.0155,"s":"2 stage"},{"z":92,"r":0.015,"s":"2 stage"},{"z":92.8,"r":0.017,"s":"2 stage"},{"z":93.6,"r":0.0162,"s":"2 stage"},{"z":94.3,"r":0.0168,"s":"2 stage"},{"z":95,"r":0.0164,"s":"2 stage"},{"z":95.8,"r":0.016,"s":"2 stage"},{"z":96.5,"r":0.0155,"s":"2 stage"},{"z":97.2,"r":0.0135,"s":"2 stage"},{"z":97.7,"r":0.009,"s":"2 stage"},{"z":98.3,"r":0.0125,"s":"2 stage"},{"z":99,"r":0.015,"s":"2 stage"},{"z":99.8,"r":0.0165,"s":"2 stage"},{"z":100.5,"r":0.0178,"s":"2 stage"},{"z":101,"r":0.012,"s":"2 stage"},{"z":101.6,"r":0.0076,"s":"2 stage"},{"z":102.5,"r":0.007,"s":"2 stage"},{"z":103.6,"r":0.0069,"s":"2 stage"},{"z":104.6,"r":0.007,"s":"2 stage"},{"z":105.6,"r":0.0072,"s":"2 stage"},{"z":106.6,"r":0.0065,"s":"2 stage"},{"z":107.6,"r":0.0061,"s":"2 stage"},{"z":108.6,"r":0.005,"s":"2 stage"},{"z":109.6,"r":0.0039,"s":"2 stage"},{"z":110.6,"r":0.0048,"s":"2 stage"},{"z":111.6,"r":0.0052,"s":"2 stage"},{"z":112.6,"r":0.0043,"s":"2 stage"},{"z":113.6,"r":0.0047,"s":"2 stage"},{"z":114.6,"r":0.003,"s":"2 stage"},{"z":115.6,"r":0.001,"s":"2 stage"},{"z":116.5,"r":-0.002,"s":"2 stage"},{"z":117.3,"r":-0.0048,"s":"2 stage"},{"z":118.2,"r":-0.008,"s":"2 stage"},{"z":119,"r":-0.0092,"s":"2 stage"},{"z":119.7,"r":-0.0075,"s":"2 stage"},{"z":120.3,"r":-0.005,"s":"2 stage"},{"z":121,"r":-0.0055,"s":"2 stage"},{"z":121.6,"r":-0.0063,"s":"2 stage"},{"z":122.3,"r":-0.004,"s":"2 stage"},{"z":123,"r":-0.0025,"s":"2 stage"},{"z":123.6,"r":-0.0015,"s":"2 stage"},{"z":124.2,"r":-0.0004,"s":"2 stage"},{"z":125,"r":-0.001,"s":"2 stage"},{"z":125.8,"r":-0.0022,"s":"2 stage"},{"z":126.5,"r":-0.0015,"s":"2 stage"},{"z":127.2,"r":-0.0023,"s":"2 stage"},{"z":128,"r":-0.0025,"s":"2 stage"}
    ]
  },
  "hconcat": [
    {
      "width": 352.4,
      "height": 263,
      "title": {"text": "n(z) models with converted SPICE density data"},
      "encoding": {
        "x": {"field": "z", "type": "quantitative", "scale": {"domain": [0, 160], "nice": false, "zero": false}, "axis": {"title": "Depth (m)", "values": [0, 20, 40, 60, 80, 100, 120, 140, 160], "format": "d"}},
        "y": {"field": "n", "type": "quantitative", "scale": {"domain": [1.25, 1.8], "nice": false, "zero": false}, "axis": {"title": "Index of refraction", "values": [1.3, 1.4, 1.5, 1.6, 1.7, 1.8], "format": ".1f"}},
        "color": {"field": "s", "type": "nominal",
          "scale": {"domain": ["SPICE core1 density measured", "SPICE core2 density measured", "2 stage", "1 stage", "3 stage", "RICE IoR measured"], "range": ["#1f77b4", "#ff7f0e", "#2ca02c", "#d62728", "#9467bd", "black"]},
          "legend": {"orient": "none", "legendX": 162, "legendY": 166, "title": null, "symbolSize": 100, "rowPadding": 3.8, "padding": 4, "symbolOffset": 2, "labelOffset": 12.5,
            "encode": {"symbols": {"update": {
              "shape": {"signal": "test(/SPICE|RICE/, datum.value) ? 'circle' : 'stroke'"},
              "size": {"signal": "test(/SPICE/, datum.value) ? 2 : (test(/RICE/, datum.value) ? 12 : 420)"},
              "fill": {"signal": "datum.value == 'RICE IoR measured' ? 'black' : (datum.value == 'SPICE core1 density measured' ? '#1f77b4' : (datum.value == 'SPICE core2 density measured' ? '#ff7f0e' : 'transparent'))"},
              "stroke": {"signal": "datum.value == '2 stage' ? '#2ca02c' : (datum.value == '1 stage' ? '#d62728' : (datum.value == '3 stage' ? '#9467bd' : 'transparent'))"},
              "opacity": {"signal": "test(/stage/, datum.value) ? 0.5 : 1"},
              "strokeWidth": {"signal": "test(/stage/, datum.value) ? 1.5 : 0"}
            }}}
          }
        }
      },
      "layer": [
        {"data": {"name": "meas"}, "mark": {"type": "line", "strokeWidth": 1.8}},
        {"data": {"name": "model"}, "mark": {"type": "line", "strokeWidth": 1.5, "opacity": 0.5}},
        {"data": {"name": "rice"}, "mark": {"type": "point", "filled": true, "size": 12, "opacity": 1}},
        {"data": {"name": "vlines"}, "mark": {"type": "rule", "color": "red", "strokeDash": [5.5, 2.4], "strokeWidth": 1.5}, "encoding": {"x": {"field": "z", "type": "quantitative"}, "y": null, "color": null}}
      ]
    },
    {
      "width": 351.7,
      "height": 263,
      "title": {"text": "Residuals to converted SPICE density data", "offset": 1.8},
      "encoding": {
        "x": {"field": "z", "type": "quantitative", "scale": {"domain": [0, 140], "nice": false, "zero": false}, "axis": {"title": "Depth (m)", "values": [0, 20, 40, 60, 80, 100, 120, 140], "format": "d"}},
        "y": {"field": "r", "type": "quantitative", "scale": {"domain": [-0.0212, 0.0363], "nice": false, "zero": false}, "axis": {"title": "deviation from measured n(z)", "titlePadding": 2, "values": [-0.02, -0.01, 0, 0.01, 0.02, 0.03], "format": ".2f"}},
        "color": {"field": "s", "type": "nominal",
          "scale": {"domain": ["1 stage", "3 stage", "2 stage"], "range": ["#1f77b4", "#ff7f0e", "#2ca02c"]},
          "legend": {"orient": "none", "legendX": 273.5, "legendY": 5.4, "title": null, "symbolSize": 100, "rowPadding": 4, "padding": 4, "symbolOffset": 5, "labelOffset": 15,
            "encode": {"symbols": {"update": {
              "shape": {"value": "circle"},
              "size": {"value": 14},
              "fill": {"signal": "datum.value == '1 stage' ? '#1f77b4' : (datum.value == '3 stage' ? '#ff7f0e' : '#2ca02c')"},
              "stroke": {"value": "transparent"},
              "strokeWidth": {"value": 0},
              "opacity": {"value": 1}
            }}}
          }
        }
      },
      "layer": [
        {"data": {"name": "resid"}, "transform": [{"filter": "datum.s == '1 stage'"}], "mark": {"type": "line", "strokeWidth": 5, "point": {"filled": true, "size": 24}}},
        {"data": {"name": "resid"}, "transform": [{"filter": "datum.s == '3 stage'"}], "mark": {"type": "line", "strokeWidth": 5, "point": {"filled": true, "size": 24}}},
        {"data": {"name": "resid"}, "transform": [{"filter": "datum.s == '2 stage'"}], "mark": {"type": "line", "strokeWidth": 5, "point": {"filled": true, "size": 24}}},
        {"data": {"name": "zero"}, "mark": {"type": "rule", "color": "#1f77b4", "strokeDash": [5.5, 2.4], "strokeWidth": 1.5}, "encoding": {"y": {"field": "r", "type": "quantitative"}, "x": null, "color": null}}
      ]
    }
  ]
}
